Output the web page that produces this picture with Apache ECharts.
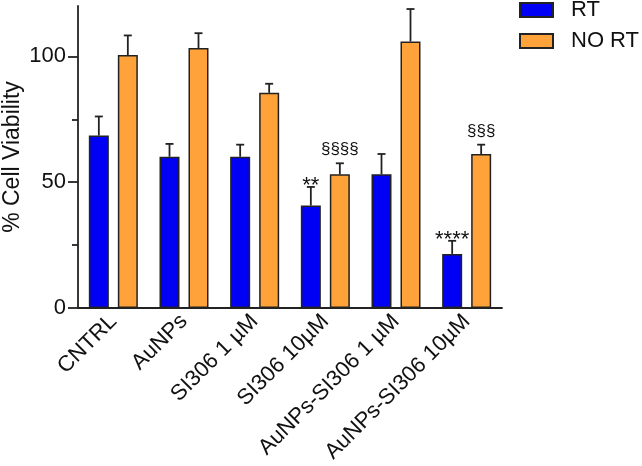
<!DOCTYPE html>
<html><head><meta charset="utf-8">
<script src="https://cdn.jsdelivr.net/npm/echarts@6/dist/echarts.min.js"></script>
<style>html,body{margin:0;padding:0;background:#fff}#c{width:642px;height:466px}</style>
</head><body><div id="c"></div>
<script>
const categories = ['CNTRL', 'AuNPs', 'SI306 1 \u00b5M', 'SI306 10\u00b5M', 'AuNPs-SI306 1 \u00b5M', 'AuNPs-SI306 10\u00b5M'];
const rtMean = [68.5, 60.1, 60.1, 40.7, 53.1, 21.5];
const rtErr = [7.6, 5.1, 4.8, 7.4, 8.1, 5.2];
const noRtMean = [100.5, 103.3, 85.5, 53.1, 105.9, 61.2];
const noRtErr = [7.8, 5.9, 3.6, 4.4, 12.9, 3.7];
const rtSig = ['', '', '', '**', '', '****'];
const noRtSig = ['', '', '', '\u00a7\u00a7\u00a7\u00a7', '', '\u00a7\u00a7\u00a7'];
const yMajorTicks = [0, 50, 100];
const yMinorTicks = [25, 75];

const FONT = '"Liberation Sans", Arial, Helvetica, sans-serif';
const BAR_W = 20, GAP = 9;
const chart = echarts.init(document.getElementById('c'), null, {renderer: 'canvas'});

function errSeries(means, errs, sigs, side, sigFont, sigDy) {
  return {
    type: 'custom', z: 5, silent: true,
    data: means.map((m, i) => [i, m, m + errs[i]]),
    renderItem(params, api) {
      const i = api.value(0);
      const base = api.coord([i, api.value(1)]);
      const top = api.coord([i, api.value(2)]);
      const x = base[0] + side * (BAR_W + GAP) / 2;
      const st = {stroke: '#222', lineWidth: 1.8};
      const children = [
        {type: 'line', shape: {x1: x, y1: base[1], x2: x, y2: top[1]}, style: st},
        {type: 'line', shape: {x1: x - 4, y1: top[1], x2: x + 4, y2: top[1]}, style: st}
      ];
      const s = sigs[params.dataIndex];
      if (s) {
        children.push({type: 'text', style: {text: s, x: x, y: top[1] + sigDy, align: 'center', verticalAlign: 'top', font: sigFont, fill: '#111'}});
      }
      return {type: 'group', children};
    }
  };
}

chart.setOption({
  animation: false,
  textStyle: {fontFamily: FONT},
  grid: {left: 78, right: 140, top: 6, bottom: 158, containLabel: false, outerBoundsMode: 'none'},
  legend: {
    data: ['RT', 'NO RT'], orient: 'vertical', left: 519, top: -1, padding: 0,
    icon: 'rect', itemWidth: 33, itemHeight: 14, itemGap: 9,
    textStyle: {fontSize: 22, lineHeight: 22, color: '#111', fontFamily: FONT, padding: [0, 0, 0, 13]}
  },
  xAxis: {
    type: 'category', data: categories,
    axisLine: {lineStyle: {color: '#222', width: 1.8}},
    axisTick: {alignWithLabel: true, length: 7, lineStyle: {color: '#222', width: 1.8}},
    axisLabel: {rotate: 45, fontSize: 22, color: '#111', margin: 10, interval: 0, fontFamily: FONT}
  },
  yAxis: [{
    type: 'value', min: 0, max: 120,
    name: '% Cell Viability', nameLocation: 'middle', nameGap: 54, nameMoveOverlap: false,
    nameTextStyle: {fontSize: 23, color: '#111', fontFamily: FONT},
    axisLine: {show: true, lineStyle: {color: '#222', width: 1.8}},
    axisTick: {show: true, length: 10, customValues: yMajorTicks, lineStyle: {color: '#222', width: 1.8}},
    axisLabel: {fontSize: 22, color: '#111', margin: 12, customValues: yMajorTicks, fontFamily: FONT},
    splitLine: {show: false}
  }, {
    type: 'value', min: 0, max: 120, position: 'left',
    axisLine: {show: false},
    axisTick: {show: true, length: 6, customValues: yMinorTicks, lineStyle: {color: '#222', width: 1.8}},
    axisLabel: {show: false},
    splitLine: {show: false}
  }],
  series: [
    {name: 'RT', type: 'bar', data: rtMean, barWidth: BAR_W, barGap: (GAP / BAR_W * 100) + '%',
     itemStyle: {color: '#0000f5', borderColor: '#222', borderWidth: 1.5}},
    {name: 'NO RT', type: 'bar', data: noRtMean, barWidth: BAR_W,
     itemStyle: {color: '#ffa23a', borderColor: '#222', borderWidth: 1.5}},
    errSeries(rtMean, rtErr, rtSig, -1, '22px ' + FONT, -12),
    errSeries(noRtMean, noRtErr, noRtSig, 1, '17px ' + FONT, -22)
  ]
});
</script></body></html>
